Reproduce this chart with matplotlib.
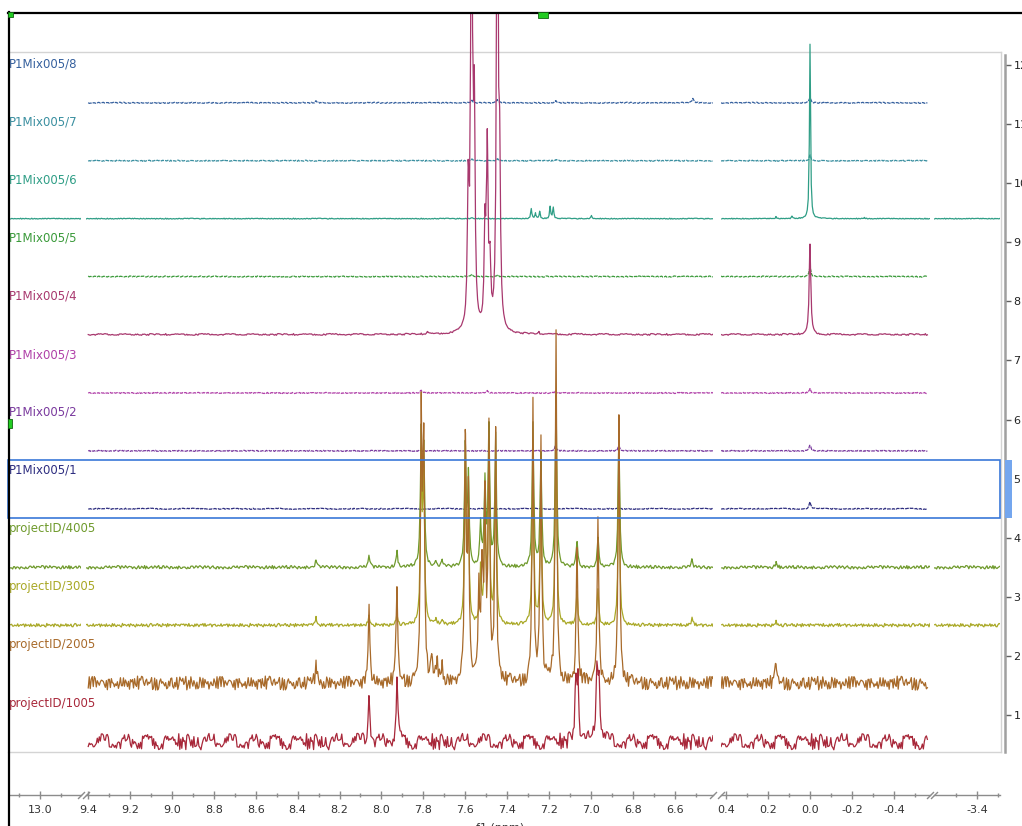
import numpy as np
import matplotlib
matplotlib.use("Agg")
import matplotlib.pyplot as plt
from matplotlib.ticker import MultipleLocator, FuncFormatter, FixedLocator
from matplotlib.patches import Rectangle
from matplotlib.lines import Line2D
import matplotlib.transforms as mtransforms

# ---------------- data ----------------
labels = ["P1Mix005/8", "P1Mix005/7", "P1Mix005/6", "P1Mix005/5",
          "P1Mix005/4", "P1Mix005/3", "P1Mix005/2", "P1Mix005/1",
          "projectID/4005", "projectID/3005", "projectID/2005", "projectID/1005"]
colors = ["#35609E", "#3A8FA0", "#2F9E86", "#3A9A3A",
          "#A8386E", "#B040A8", "#7A3A9E", "#2E2E80",
          "#6F9A2C", "#A9A826", "#A86A2A", "#A8283A"]
baselines = [11.36, 10.38, 9.40, 8.42, 7.44, 6.45, 5.47, 4.49, 3.50, 2.52, 1.54, 0.55]
ppm_start = [9.40, 9.40, 13.14, 9.40, 9.40, 9.40, 9.40, 9.40, 13.14, 13.14, 9.40, 9.40]
ppm_end = [-0.56, -0.56, -3.51, -0.56, -0.56, -0.56, -0.56, -0.56, -3.51, -3.51, -0.56, -0.56]
noise_amp = [0.01, 0.01, 0.008, 0.01, 0.015, 0.01, 0.01, 0.01, 0.03, 0.03, 0.12, 0.14]
dashed = [True, True, False, True, False, True, True, True, False, False, False, False]

p8_ppm = [8.312, 7.568, 7.447, 7.167, 6.514, 0.0]
p8_h = [0.03, 0.05, 0.05, 0.03, 0.08, 0.09]
p7_ppm = [7.568, 7.447, 7.167, 0.0]
p7_h = [0.03, 0.03, 0.02, 0.09]
p6_ppm = [7.568, 7.285, 7.265, 7.245, 7.195, 7.180, 6.998, 0.162, 0.086, 0.0, -0.26]
p6_h = [0.02, 0.17, 0.09, 0.12, 0.21, 0.19, 0.05, 0.03, 0.04, 2.95, 0.02]
p5_ppm = [7.568, 7.447, 0.0]
p5_h = [0.03, 0.03, 0.16]
p4_ppm = [7.78, 7.586, 7.570, 7.557, 7.506, 7.495, 7.482, 7.447, 7.436, 7.25, 0.0]
p4_h = [0.04, 2.2, 9.0, 3.5, 1.6, 3.0, 1.0, 9.0, 2.5, 0.03, 1.52]
p3_ppm = [7.81, 7.495, 7.17, 0.0]
p3_h = [0.05, 0.04, 0.03, 0.07]
p2_ppm = [7.17, 6.867, 0.0]
p2_h = [0.08, 0.09, 0.10]
p1_ppm = [0.0]
p1_h = [0.12]
pj_ppm = [8.312, 8.059, 7.926, 7.81, 7.798, 7.74, 7.71, 7.60, 7.585, 7.527, 7.506,
          7.487, 7.455, 7.277, 7.239, 7.167, 7.067, 6.967, 6.867, 6.518, 0.162]
p4005_h = [0.14, 0.19, 0.26, 2.2, 1.9, 0.1, 0.1, 2.0, 1.5, 0.7, 1.4,
           2.3, 2.2, 2.4, 1.9, 2.9, 0.45, 0.5, 2.2, 0.12, 0.08]
p3005_h = [0.12, 0.15, 0.18, 2.7, 2.3, 0.08, 0.08, 2.5, 1.8, 0.9, 1.8,
           2.8, 2.7, 2.9, 2.3, 3.4, 0.55, 0.6, 2.7, 0.12, 0.06]
p2005_ppm = [8.312, 8.059, 7.926, 7.81, 7.798, 7.76, 7.735, 7.71, 7.60, 7.585, 7.535,
             7.52, 7.506, 7.487, 7.455, 7.277, 7.239, 7.167, 7.067, 6.967, 6.867, 0.162]
p2005_h = [0.34, 1.34, 1.61, 4.4, 3.9, 0.35, 0.4, 0.3, 4.1, 3.0, 1.5,
           1.8, 3.0, 4.2, 4.2, 4.75, 4.1, 5.85, 2.3, 2.75, 4.5, 0.32]
p1005_ppm = [8.059, 7.926, 7.072, 7.062, 6.972, 6.962]
p1005_h = [0.85, 1.0, 1.05, 0.95, 1.2, 1.05]

peak_ppm = [p8_ppm, p7_ppm, p6_ppm, p5_ppm, p4_ppm, p3_ppm, p2_ppm, p1_ppm,
            pj_ppm, pj_ppm, p2005_ppm, p1005_ppm]
peak_h = [p8_h, p7_h, p6_h, p5_h, p4_h, p3_h, p2_h, p1_h,
          p4005_h, p3005_h, p2005_h, p1005_h]
hwhm = [0.0045, 0.0045, 0.003, 0.0045, 0.0045, 0.0045, 0.0045, 0.0045,
        0.0045, 0.0045, 0.0045, 0.005]

# hand-typed baseline noise texture
NOISE = [0.31, -0.72, 0.55, -0.18, 0.92, -0.44, 0.07, -0.86, 0.63, -0.29, 0.14, -0.97,
         0.48, 0.22, -0.61, 0.79, -0.05, -0.38, 0.66, -0.83, 0.27, 0.95, -0.52, 0.11,
         -0.24, 0.58, -0.69, 0.36, -0.12, 0.84, -0.91, 0.43, 0.02, -0.57, 0.71, -0.33,
         0.19, -0.78, 0.88, -0.08, -0.46, 0.53, -0.15, 0.67, -0.99, 0.25, 0.41, -0.64,
         0.09, -0.27, 0.76, -0.49, 0.34, -0.81, 0.60, 0.04, -0.36, 0.93, -0.70, 0.17,
         -0.21, 0.50, -0.89, 0.28, 0.73, -0.55, 0.13, -0.42, 0.86, -0.11, -0.68, 0.39,
         -0.03, 0.62, -0.94, 0.21, 0.45, -0.59, 0.06, -0.31, 0.81, -0.47, 0.30, -0.75,
         0.57, 0.10, -0.40, 0.98, -0.63, 0.16, -0.20, 0.47, -0.87, 0.35, 0.69, -0.53,
         0.12, -0.37, 0.90, -0.14, -0.65, 0.42, -0.01, 0.59, -0.96, 0.24, 0.51, -0.60,
         0.08, -0.26, 0.78, -0.45, 0.33, -0.80, 0.64, 0.03, -0.35, 0.89, -0.73, 0.20,
         -0.23, 0.52, -0.84, 0.26, 0.70, -0.50, 0.15]
strides = [11, 13, 17, 19, 23, 29, 31, 37, 41, 43, 47, 53]

# ---------------- layout ----------------
W, H = 1022, 826
def fx(x): return x / W
def fy(y): return 1 - y / H
def val(ypx): return 1 + (715 - ypx) / 59.09

fig = plt.figure(figsize=(W / 100, H / 100), dpi=100)
fig.patch.set_facecolor("white")

# plot-area frame (light grey)
fax = fig.add_axes([fx(8), fy(752), fx(1001) - fx(8), fy(52) - fy(752)], zorder=0)
fax.set_xticks([]); fax.set_yticks([])
fax.patch.set_alpha(0)
for s in ["top", "right", "bottom"]:
    fax.spines[s].set_color("#D4D4D4"); fax.spines[s].set_linewidth(1.0)
fax.spines["left"].set_visible(False)

seg_px = [(10, 81), (86, 713), (721, 930), (934, 1000)]
seg_ppm = [(13.143, 12.804), (9.4095, 6.418), (0.4246, -0.5725), (-3.195, -3.51)]
seg_major = [[13.0], None, None, [-3.4]]
seg_minor = [[13.1, 12.9], None, None, [-3.3, -3.5]]
ybot, ytop = 795, 12

def fmt(x, pos):
    return f"{round(x, 1) + 0.0:.1f}"

axes = []
for (x0, x1), (p0, p1), mj, mn in zip(seg_px, seg_ppm, seg_major, seg_minor):
    ax = fig.add_axes([fx(x0), fy(ybot), fx(x1) - fx(x0), fy(ytop) - fy(ybot)], zorder=2)
    ax.set_xlim(p0, p1)
    ax.set_ylim(val(ybot), val(ytop))
    ax.patch.set_alpha(0)
    for s in ["top", "right", "left"]:
        ax.spines[s].set_visible(False)
    ax.spines["bottom"].set_color("#8C8C8C")
    ax.spines["bottom"].set_linewidth(1.0)
    ax.set_yticks([])
    if mj is None:
        ax.xaxis.set_major_locator(MultipleLocator(0.2))
        ax.xaxis.set_minor_locator(MultipleLocator(0.1))
    else:
        ax.xaxis.set_major_locator(FixedLocator(mj))
        ax.xaxis.set_minor_locator(FixedLocator(mn))
    ax.xaxis.set_major_formatter(FuncFormatter(fmt))
    ax.tick_params(axis="x", which="major", direction="inout", length=6, width=1,
                   color="#8C8C8C", labelsize=8, labelcolor="#333333", pad=4)
    ax.tick_params(axis="x", which="minor", direction="inout", length=3, width=1,
                   color="#8C8C8C")
    axes.append(ax)

# break marks
for i, ax in enumerate(axes):
    kw = dict(transform=ax.transAxes, color="#8C8C8C", clip_on=False,
              marker=[(-1, -1), (1, 1)], markersize=5, linestyle="none", mew=1)
    if i > 0:
        ax.plot([0], [0], **kw)
    if i < len(axes) - 1:
        ax.plot([1], [0], **kw)

# spectra
for k in range(len(labels)):
    pp = np.array(peak_ppm[k]); hh = np.array(peak_h[k]); w = hwhm[k]
    for ax, (p0, p1) in zip(axes, seg_ppm):
        hi = min(p0, ppm_start[k]); lo = max(p1, ppm_end[k])
        if hi <= lo:
            continue
        x = np.arange(lo, hi, 0.0048)
        inside = pp[(pp > lo) & (pp < hi)]
        x = np.union1d(x, inside)[::-1]
        y = np.zeros_like(x)
        for c, h in zip(pp, hh):
            if c == 0.0 and k == 2:
                y += h / (1 + ((x - c) / 0.003) ** 2)
            else:
                y += h / (1 + ((x - c) / w) ** 2)
        idx = (np.arange(len(x)) * strides[k] + 7 * k) % len(NOISE)
        y = y + noise_amp[k] * np.array(NOISE)[idx] + baselines[k]
        ls = (0, (3, 0.8)) if dashed[k] else "-"
        ax.plot(x, y, color=colors[k], lw=0.9, linestyle=ls, zorder=3 + k * 0.01)

# spectrum labels
tr = mtransforms.blended_transform_factory(fig.transFigure, axes[1].transData)
for k in range(len(labels)):
    axes[1].text(fx(9), baselines[k] + 0.65, labels[k], transform=tr, color=colors[k],
                 fontsize=8.5, ha="left", va="center", clip_on=False, zorder=5)

# right vertical axis
rax = fig.add_axes([fx(990), fy(752), fx(1005) - fx(990), fy(55) - fy(752)], zorder=1)
rax.patch.set_alpha(0)
rax.set_ylim(val(752), val(55))
for s in ["top", "left", "bottom"]:
    rax.spines[s].set_visible(False)
rax.spines["right"].set_color("#A0A0A0")
rax.spines["right"].set_linewidth(1.8)
rax.set_xticks([])
rax.yaxis.tick_right()
rax.set_yticks(range(1, 13))
rax.tick_params(axis="y", direction="out", length=4, width=1, color="#606060",
                labelsize=8, labelcolor="#222222", pad=2)

# f1 axis title (cut by the bottom edge)
fig.text(fx(500), fy(828), "f1 (ppm)", ha="center", va="center", fontsize=8, color="#333333")

# selection rectangle and handle
fig.add_artist(Rectangle((fx(8), fy(518)), fx(1000) - fx(8), fy(460) - fy(518),
                         transform=fig.transFigure, fill=False, edgecolor="#3A78D8",
                         lw=1.2, zorder=6))
fig.add_artist(Rectangle((fx(1005), fy(518)), fx(1012) - fx(1005), fy(460) - fy(518),
                         transform=fig.transFigure, facecolor="#74A6EE", edgecolor="none",
                         zorder=6))

# outer black border
fig.add_artist(Line2D([fx(8.5), fx(8.5)], [fy(826), fy(12)], transform=fig.transFigure,
                      color="black", lw=1.6, zorder=7))
fig.add_artist(Line2D([fx(8), fx(1022)], [fy(12.5), fy(12.5)], transform=fig.transFigure,
                      color="black", lw=1.6, zorder=7))

# small green markers
for (x0, y0, w0, h0) in [(8, 12, 5, 5), (538, 12, 10, 6), (8, 419, 4, 9)]:
    fig.add_artist(Rectangle((fx(x0), fy(y0 + h0)), w0 / W, h0 / H, transform=fig.transFigure,
                             facecolor="#22CC22", edgecolor="#116611", lw=0.6, zorder=8))

fig.savefig("out.png", dpi=100)
